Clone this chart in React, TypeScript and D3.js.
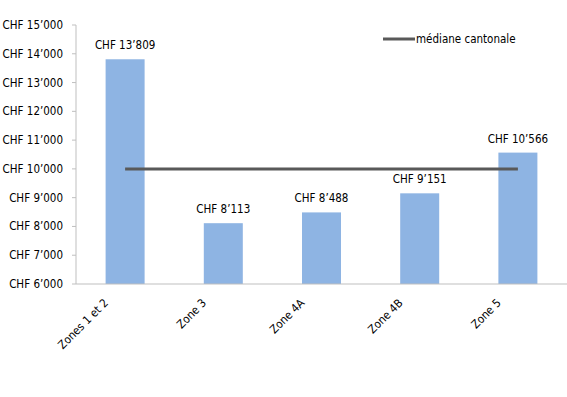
import React from "react";
import * as d3 from "d3";

const zones = ["Zones 1 et 2", "Zone 3", "Zone 4A", "Zone 4B", "Zone 5"];
const values = [13809, 8113, 8488, 9151, 10566];
const medianValue = 10000;
const yTicks = [6000, 7000, 8000, 9000, 10000, 11000, 12000, 13000, 14000, 15000];

const W = 567, H = 397;
const margin = { top: 25, right: 0, bottom: 113, left: 76 };
const font = "'DejaVu Sans Condensed', 'DejaVu Sans', sans-serif";
const fs = 11.5;

function chf(v: number) {
  const s = String(v);
  const t = s.length > 3 ? s.slice(0, s.length - 3) + "\u2019" + s.slice(-3) : s;
  return "CHF " + t;
}

export default function App() {
  const xc = d3.scaleBand().domain(zones).range([margin.left, W - margin.right]);
  const y = d3.scaleLinear().domain([6000, 15000]).range([H - margin.bottom, margin.top]);
  const mid = (z: string) => (xc(z) as number) + xc.bandwidth() / 2;
  const bw = 39;

  const line = d3.line<string>().x(z => mid(z)).y(() => y(medianValue));

  return (
    <svg width={W} height={H} style={{ position: "absolute", left: 0, top: 0, fontFamily: font }}>
      {/* y axis */}
      <line x1={margin.left} x2={margin.left} y1={y(15000)} y2={y(6000)} stroke="#bfbfbf" />
      {yTicks.map(t => (
        <g key={t}>
          <line x1={margin.left - 4} x2={margin.left} y1={y(t)} y2={y(t)} stroke="#bfbfbf" />
          <text x={63} y={y(t)} dy="0.35em" textAnchor="end" fontSize={fs} fill="#000">{chf(t)}</text>
        </g>
      ))}
      {/* bars */}
      {zones.map((z, i) => (
        <g key={z}>
          <rect x={mid(z) - bw / 2} y={y(values[i])} width={bw} height={y(6000) - y(values[i])} fill="#8eb4e3" />
          <text x={mid(z)} y={y(values[i]) - 10} textAnchor="middle" fontSize={fs} fill="#000">{chf(values[i])}</text>
          <text transform={`translate(${mid(z) - 22},${y(6000) + 14}) rotate(-45)`} textAnchor="end" dy="0.7em" fontSize={fs} fill="#000">{z}</text>
        </g>
      ))}
      {/* x axis */}
      <line x1={margin.left} x2={W} y1={y(6000)} y2={y(6000)} stroke="#bfbfbf" />
      {/* median */}
      <path d={line(zones) as string} stroke="#595959" strokeWidth={3} fill="none" />
      {/* legend */}
      <line x1={383} x2={415} y1={39} y2={39} stroke="#595959" strokeWidth={3} />
      <text x={416} y={39} dy="0.35em" fontSize={fs} fill="#000">médiane cantonale</text>
    </svg>
  );
}
